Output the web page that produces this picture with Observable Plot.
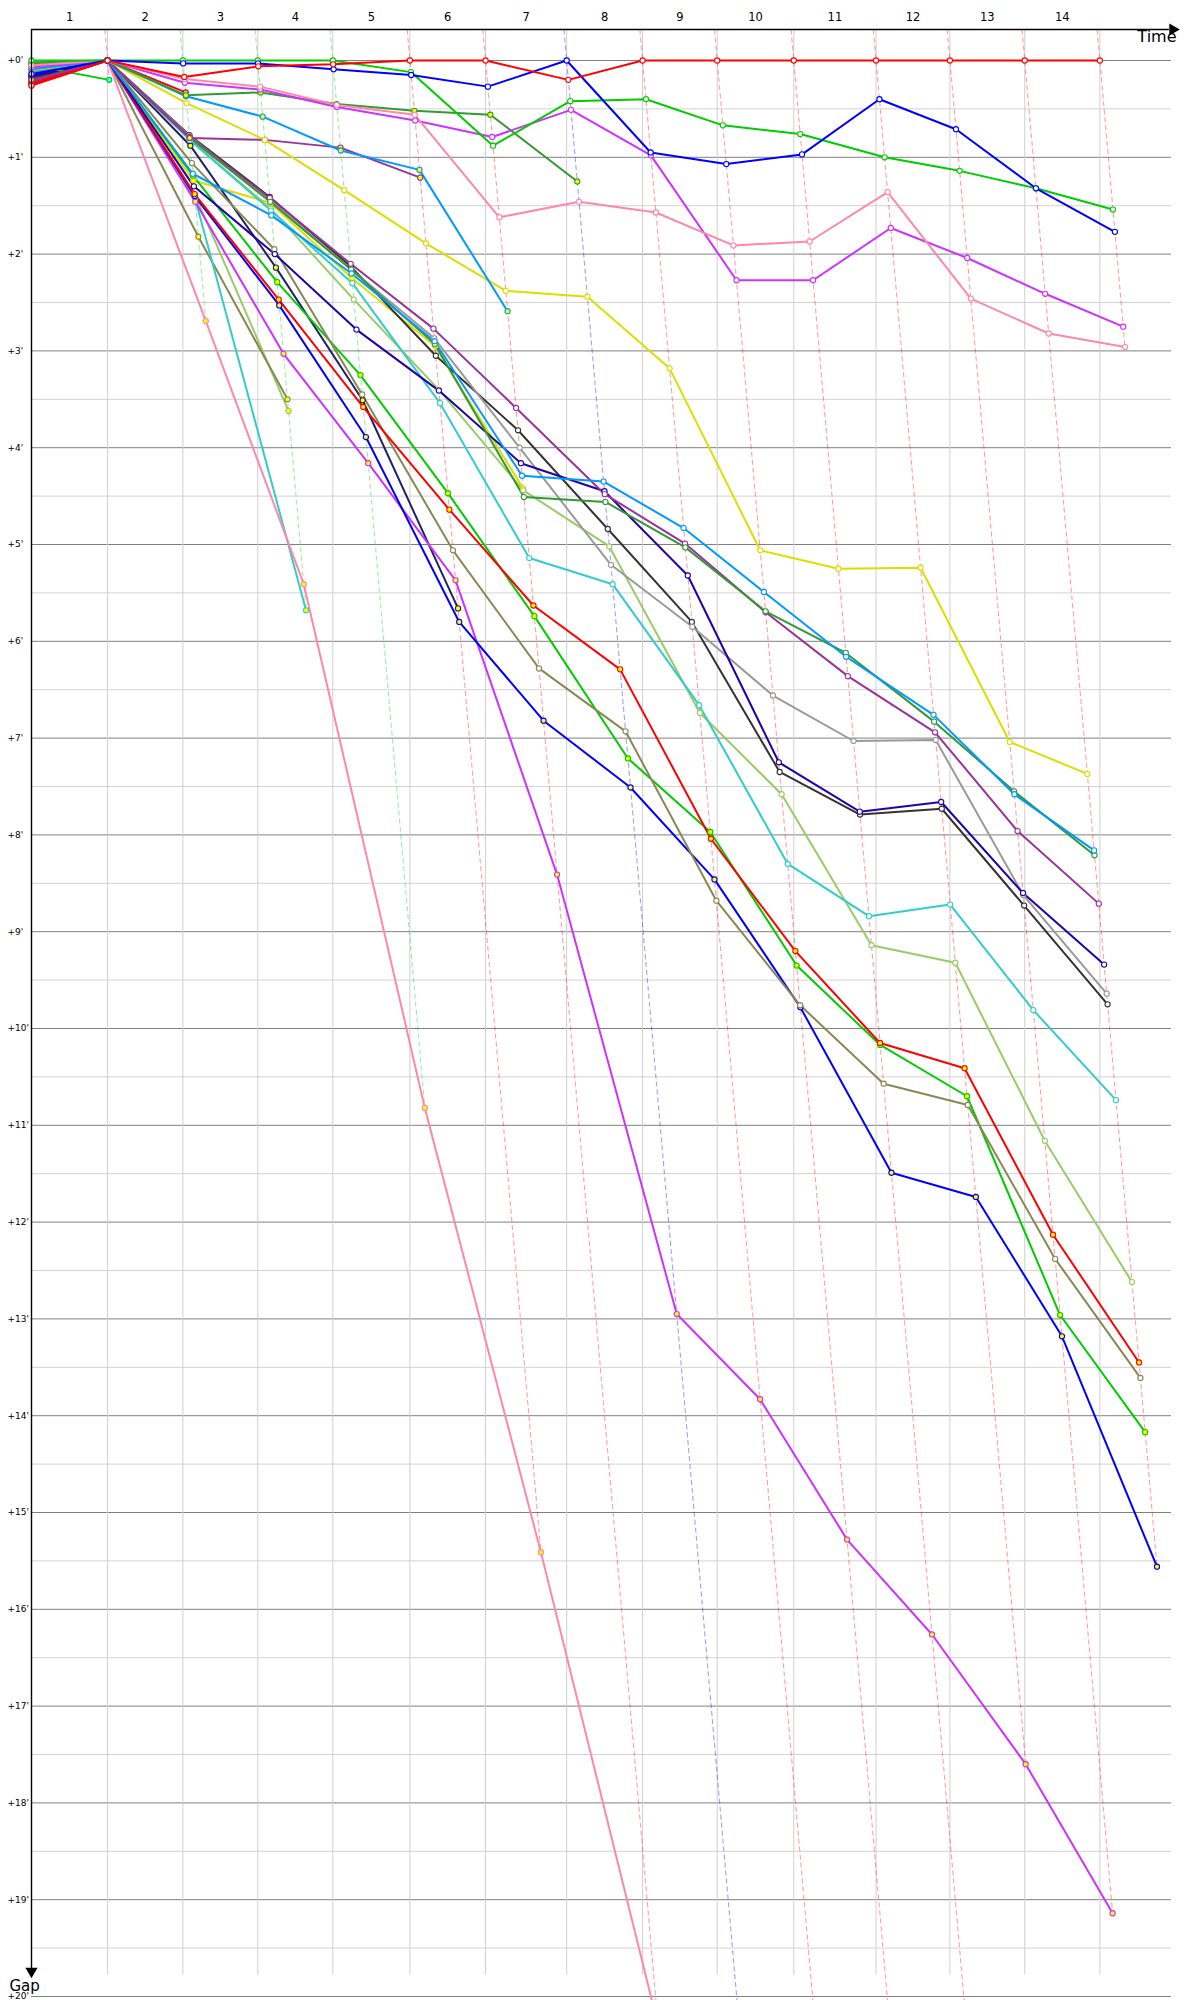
<!DOCTYPE html>
<html>
<head>
<meta charset="utf-8">
<script src="https://cdn.jsdelivr.net/npm/d3@7"></script>
<script src="https://cdn.jsdelivr.net/npm/@observablehq/plot@0.6"></script>
<style>
  html, body { margin: 0; padding: 0; background: #fff; }
  #chart svg { display: block; }
</style>
</head>
<body>
<div id="chart"></div>
<script>
// Leader's cumulative time (minutes) at the end of each lap (lap 0 = start)
const lapTimes = [0, 8.95, 17.81, 26.62, 35.45, 44.52, 53.42, 62.96, 71.89, 80.67, 89.68, 99.36, 108.05, 116.85, 125.69];
const lapLabels = ["1","2","3","4","5","6","7","8","9","10","11","12","13","14"];
const gapTicks = [0,1,2,3,4,5,6,7,8,9,10,11,12,13,14,15,16,17,18,19,20];
const halfTicks = [0.5,1.5,2.5,3.5,4.5,5.5,6.5,7.5,8.5,9.5,10.5,11.5,12.5,13.5,14.5,15.5,16.5,17.5,18.5,19.5];

// One colour / marker fill per competitor
const riderColors = [
  "#ff0000","#0000ff","#00cc00","#ff88aa","#cc33ff","#339933","#0099ff","#dddd00","#993399","#ff0000",
  "#00cc00","#0099ff","#339933","#993399","#2200aa","#999999","#333333","#33cccc","#99cc66","#ff0000",
  "#888855","#00cc00","#0000ff","#dddd00","#cc33ff","#ff88aa","#33cccc","#888855","#99cc66","#222266"
];
const markerFills = [
  "#ffffff","#ffffff","#ffffff","#ffffff","#ffffff","#ffff00","#ffff00","#ffffff","#ffff00","#33ffff",
  "#33ffff","#ffffff","#ffffff","#ffffff","#ffffff","#ffffff","#ffffff","#ffffff","#ffffff","#ffff00",
  "#ffffff","#ffff00","#ffff00","#ffff00","#ffff00","#ffff00","#ffff00","#ffff00","#ffff00","#ffff00"
];

// Gap to the leader (minutes) at the end of each lap, index = lap number
const riderGaps = [
  [0.26, 0, 0.17, 0.06, 0.04, 0, 0, 0.2, 0, 0, 0, 0, 0, 0, 0],
  [0.14, 0, 0.03, 0.03, 0.09, 0.15, 0.27, 0, 0.95, 1.07, 0.97, 0.40, 0.71, 1.32, 1.77],
  [0.0, 0, 0, 0, 0, 0.12, 0.88, 0.42, 0.40, 0.67, 0.76, 1.0, 1.14, 1.32, 1.54],
  [0.05, 0, 0.19, 0.27, 0.46, 0.56, 1.62, 1.46, 1.57, 1.91, 1.87, 1.36, 2.46, 2.82, 2.96],
  [0.07, 0, 0.23, 0.30, 0.48, 0.62, 0.79, 0.51, 0.98, 2.27, 2.27, 1.73, 2.04, 2.41, 2.75],
  [0.02, 0, 0.36, 0.33, 0.45, 0.52, 0.56, 1.25],
  [0.09, 0, 0.37, 0.58, 0.93, 1.13, 2.59],
  [0.10, 0, 0.44, 0.82, 1.34, 1.89, 2.38, 2.44, 3.18, 5.06, 5.25, 5.24, 7.04, 7.37],
  [0.20, 0, 0.80, 0.82, 0.90, 1.21],
  [0.24, 0, 0.33],
  [0.05, 0.2],
  [0.11, 0, 1.17, 1.60, 2.20, 2.90, 4.29, 4.35, 4.83, 5.49, 6.16, 6.76, 7.58, 8.16],
  [0.04, 0, 0.80, 1.46, 2.16, 2.93, 4.51, 4.56, 5.03, 5.69, 6.12, 6.83, 7.55, 8.21],
  [0.22, 0, 0.79, 1.42, 2.10, 2.77, 3.59, 4.48, 4.99, 5.70, 6.36, 6.94, 7.96, 8.71],
  [0.16, 0, 1.30, 2.00, 2.78, 3.41, 4.16, 4.45, 5.32, 7.25, 7.76, 7.66, 8.60, 9.34],
  [0.12, 0, 0.78, 1.44, 2.16, 2.87, 4.00, 5.21, 5.85, 6.56, 7.03, 7.02, 8.62, 9.64],
  [0.18, 0, 0.77, 1.41, 2.13, 3.05, 3.82, 4.84, 5.80, 7.35, 7.79, 7.73, 8.73, 9.75],
  [0.08, 0, 0.82, 1.55, 2.30, 3.54, 5.14, 5.41, 6.66, 8.30, 8.84, 8.72, 9.81, 10.74],
  [0.13, 0, 0.82, 1.53, 2.47, 3.40, 4.44, 5.02, 6.74, 7.58, 9.14, 9.32, 11.16, 12.62],
  [0.25, 0, 1.38, 2.47, 3.58, 4.64, 5.63, 6.29, 8.04, 9.20, 10.15, 10.41, 12.13, 13.45],
  [0.19, 0, 1.06, 1.95, 3.45, 5.06, 6.28, 6.93, 8.68, 9.76, 10.57, 10.79, 12.38, 13.61],
  [0.03, 0, 1.19, 2.29, 3.25, 4.47, 5.74, 7.21, 7.97, 9.35, 10.17, 10.70, 12.96, 14.17],
  [0.15, 0, 1.40, 2.53, 3.89, 5.80, 6.82, 7.51, 8.46, 9.78, 11.49, 11.74, 13.18, 15.56],
  [0.10, 0, 1.24, 1.47, 2.25, 2.95, 4.42],
  [0.21, 0, 1.46, 3.03, 4.16, 5.37, 8.41, 12.95, 13.83, 15.28, 16.26, 17.60, 19.14],
  [0.06, 0, 2.69, 5.41, 10.82, 15.41, 20.3, 25.0, 30.0, 35.0, 40.0],
  [0.09, 0, 1.42, 5.68],
  [0.17, 0, 1.82, 3.50],
  [0.14, 0, 1.38, 3.62],
  [0.23, 0, 0.88, 2.14, 3.51, 5.66]
];

// ---- derived tables ----
const points = [];
for (let i = riderGaps.length - 1; i >= 0; i--) {
  riderGaps[i].forEach((g, k) => {
    points.push({rider: i, lap: k, gap: g, time: k === 0 ? lapTimes[0] : lapTimes[k] + g,
                 color: riderColors[i], fill: markerFills[i]});
  });
}
const laps = [];
for (let k = 1; k < lapTimes.length; k++) {
  let lead = -1, min = Infinity, max = -Infinity;
  riderGaps.forEach((gs, i) => {
    if (gs.length > k) {
      if (gs[k] < min) { min = gs[k]; lead = i; }
      if (gs[k] > max) max = gs[k];
    }
  });
  laps.push({lap: k, t: lapTimes[k], gmax: max, color: riderColors[lead]});
}
const labelPos = lapLabels.map((s, i) => ({label: s, t: (lapTimes[i] + lapTimes[i + 1]) / 2}));

const pxPerMin = 8.5;
const xMax = (1200 - 31 - 26) / pxPerMin;   // time domain visible
const topY = -0.32;                          // top axis position (in gap units)
const axisEndY = 19.78;

const chart = Plot.plot({
  width: 1200,
  height: 2000,
  marginTop: 60,
  marginBottom: 4,
  marginLeft: 31,
  marginRight: 26,
  x: {domain: [0, xMax], axis: null},
  y: {domain: [0, 20], reverse: true, axis: null},
  color: {type: "identity"},
  style: {fontFamily: "'DejaVu Sans', Verdana, sans-serif", background: "#ffffff", overflow: "hidden"},
  marks: [
    Plot.ruleY(halfTicks, {x1: 0, x2: xMax - 0.35, stroke: "#d3d3d3", strokeWidth: 1}),
    Plot.ruleY(gapTicks, {x1: 0, x2: xMax - 0.35, stroke: "#808080", strokeWidth: 1}),
    Plot.ruleX(lapTimes.slice(1), {y1: topY, y2: axisEndY, stroke: "#cfcfcf", strokeWidth: 1}),
    Plot.link(laps, {
      x1: d => d.t + topY, y1: topY, x2: d => d.t + d.gmax, y2: "gmax",
      stroke: "color", strokeOpacity: 0.38, strokeWidth: 1.1, strokeDasharray: "5,3"
    }),
    Plot.line(points, {x: "time", y: "gap", z: "rider", stroke: "color", strokeWidth: 2, curve: "linear"}),
    Plot.dot(points, {x: "time", y: "gap", r: 2.6, stroke: "color", fill: "fill", strokeWidth: 1.1}),
    // axes
    Plot.ruleY([topY], {x1: 0, x2: xMax - 0.6, stroke: "#000", strokeWidth: 1.4}),
    Plot.ruleX([0], {y1: topY, y2: axisEndY - 0.05, stroke: "#000", strokeWidth: 1.4}),
    Plot.dot([xMax - 0.2], {x: d => d, y: topY, symbol: "triangle", rotate: 90, r: 4.5, fill: "#000", stroke: "none"}),
    Plot.dot([axisEndY - 0.04], {x: 0, y: d => d, symbol: "triangle", rotate: 180, r: 4.5, fill: "#000", stroke: "none"}),
    Plot.text(labelPos, {x: "t", y: topY, text: "label", dy: -12, fontSize: 11.5, fill: "#000", lineAnchor: "middle"}),
    Plot.text(gapTicks, {x: 0, y: d => d, text: d => `+${d}'`, textAnchor: "start", dx: -24, fontSize: 9, fill: "#000", lineAnchor: "middle"}),
    Plot.text(["Time"], {x: xMax, y: topY, text: d => d, textAnchor: "end", dx: 2, dy: 1, lineAnchor: "top", fontSize: 16, fill: "#000"}),
    Plot.text(["Gap"], {x: 0, y: 20, text: d => d, textAnchor: "start", dx: -22, dy: -6, lineAnchor: "bottom", fontSize: 15, fill: "#000"})
  ]
});
document.getElementById("chart").appendChild(chart);
</script>
</body>
</html>
